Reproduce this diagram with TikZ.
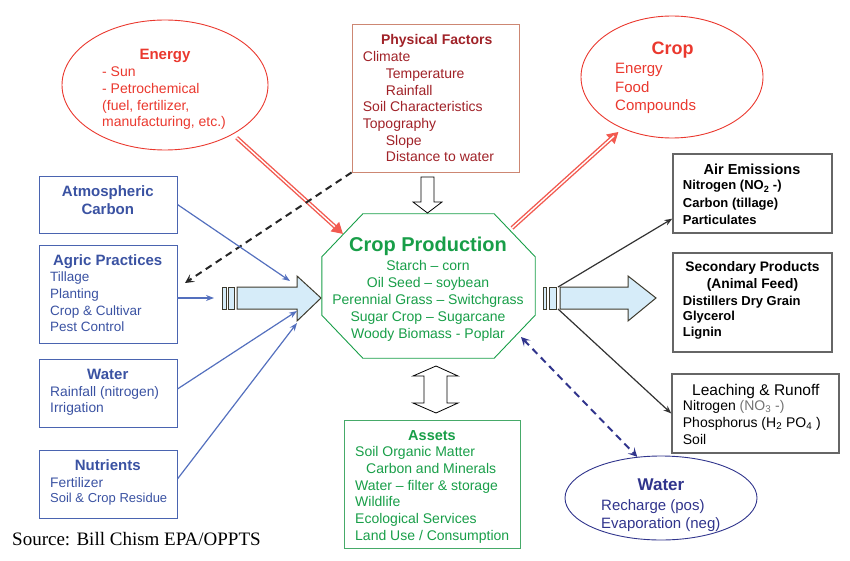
\documentclass[tikz,border=0pt]{standalone}
\usepackage{fontspec}
\setmainfont{Liberation Sans}
\newfontfamily\srcfont{Liberation Serif}
\usetikzlibrary{arrows.meta,shapes.geometric}
\definecolor{enred}{RGB}{234,56,46}
\definecolor{arrred}{RGB}{242,90,80}
\definecolor{physred}{RGB}{160,34,40}
\definecolor{physedge}{RGB}{205,135,115}
\definecolor{prodgreen}{RGB}{24,158,72}
\definecolor{assetedge}{RGB}{70,170,105}
\definecolor{txtblue}{RGB}{58,82,162}
\definecolor{boxblue}{RGB}{74,100,176}
\definecolor{lineblue}{RGB}{84,112,190}
\definecolor{wblue}{RGB}{48,52,140}
\definecolor{arrfill}{RGB}{214,236,249}
\newcommand\fs[2]{\fontsize{#1}{#2}\selectfont}
\begin{document}
\begin{tikzpicture}[x=1pt,y=-1pt,
  box/.style={draw=#1,line width=0.9pt,inner sep=0pt},
  ttl/.style={anchor=base,align=center,font=\bfseries\fs{15}{17.6}},
  txt/.style={anchor=base west,align=left,inner sep=0pt,font=\fs{14}{16.7}},
  bluearr/.style={draw=lineblue,line width=1.2pt,-{Stealth[length=8pt,width=6pt]}},
  blkarr/.style={draw=black!80,line width=1.2pt,-{Stealth[length=8pt,width=6pt]}},
  redarr/.style={draw=arrred,line width=4.2pt,-{Triangle[length=11pt,width=12pt]},
    postaction={draw=white,line width=1.4pt,-,shorten >=11pt}},
  blockarr/.style={draw=black!75!olive,fill=arrfill,line width=1pt},
  hollow/.style={draw=black,fill=white,line width=0.8pt}]
  \useasboundingbox (0,0) rectangle (850,561);

  % ellipses
  \node[draw=enred,line width=0.9pt,ellipse,minimum width=206pt,minimum height=130pt] (energy) at (165,85) {};
  \node[draw=enred,line width=0.9pt,ellipse,minimum width=182pt,minimum height=122pt] (crop) at (672,77) {};
  \node[draw=wblue,line width=0.9pt,ellipse,minimum width=192pt,minimum height=84pt] (water) at (661,498) {};

  % boxes
  \node[box=physedge,minimum width=167pt,minimum height=148pt] (phys) at (435.5,98) {};
  \node[box=boxblue,minimum width=138pt,minimum height=57pt] (atm) at (108,204.5) {};
  \node[box=boxblue,minimum width=138pt,minimum height=98pt] (agric) at (108,294) {};
  \node[box=boxblue,minimum width=138pt,minimum height=68pt] (wbox) at (108,393) {};
  \node[box=boxblue,minimum width=138pt,minimum height=68pt] (nutr) at (108,484) {};
  \node[box=assetedge,minimum width=176pt,minimum height=128pt] (assets) at (432,484) {};
  \node[box=black!60,line width=1.3pt,minimum width=159pt,minimum height=79pt] (air) at (752.5,193.5) {};
  \node[box=black!60,line width=1.3pt,minimum width=159pt,minimum height=99pt] (sec) at (752.5,302.5) {};
  \node[box=black!60,line width=1.3pt,minimum width=167pt,minimum height=79pt] (leach) at (755.5,413.5) {};

  % crop production octagon
  \node[minimum width=213pt,minimum height=144pt,inner sep=0pt] (prod) at (428.5,286) {};
  \draw[prodgreen,line width=0.9pt] ([xshift=41pt]prod.north west) -- ([xshift=-41pt]prod.north east)
    -- ([yshift=-43pt]prod.north east) -- ([yshift=43pt]prod.south east)
    -- ([xshift=-41pt]prod.south east) -- ([xshift=41pt]prod.south west)
    -- ([yshift=43pt]prod.south west) -- ([yshift=-43pt]prod.north west) -- cycle;

  % texts (multi-line nodes sit on the baseline of their last line)
  \node[ttl,enred] (energyT) at (165,60) {Energy};
  \node[txt,enred] (energyB) at (102,127) {- Sun\\- Petrochemical\\(fuel, fertilizer,\\manufacturing, etc.)};
  \node[ttl,physred,font=\bfseries\fs{14}{17}] (physT) at (436.7,45) {Physical Factors};
  \node[txt,physred] (physB) at (362.7,161.9) {Climate\\\hspace*{23pt}Temperature\\\hspace*{23pt}Rainfall\\Soil Characteristics\\Topography\\\hspace*{23pt}Slope\\\hspace*{23pt}Distance to water};
  \node[ttl,enred,font=\bfseries\fs{18}{21}] (cropT) at (672.5,55) {Crop};
  \node[txt,enred,font=\fs{15}{18.3}] (cropB) at (615,110.6) {Energy\\Food\\Compounds};
  \node[ttl,txtblue] (atmT) at (107.8,214.3) {Atmospheric\\Carbon};
  \node[ttl,txtblue] (agricT) at (107.7,265) {Agric Practices};
  \node[txt,txtblue,font=\fs{13.5}{16.7}] (agricB) at (50,331.8) {Tillage\\Planting\\Crop \& Cultivar\\Pest Control};
  \node[ttl,txtblue] (wboxT) at (107.8,379.3) {Water};
  \node[txt,txtblue,font=\fs{13.8}{16}] (wboxB) at (50,412.7) {Rainfall (nitrogen)\\Irrigation};
  \node[ttl,txtblue] (nutrT) at (107.8,470.7) {Nutrients};
  \node[txt,txtblue,font=\fs{13.8}{15.4}] (nutrB) at (50,502.7) {Fertilizer\\{\fs{13}{15.4}Soil \& Crop Residue}};
  \node[ttl,prodgreen,font=\bfseries\fs{20}{24}] (prodT) at (428,251.7) {Crop Production};
  \node[anchor=base,align=center,inner sep=0pt,prodgreen,font=\fs{14}{17}] (prodB) at (428,338) {Starch – corn\\Oil Seed – soybean\\Perennial Grass – Switchgrass\\Sugar Crop – Sugarcane\\Woody Biomass - Poplar};
  \node[ttl,prodgreen,font=\bfseries\fs{14.5}{17}] (assetsT) at (432,440) {Assets};
  \node[txt,prodgreen] (assetsB) at (355,540.2) {Soil Organic Matter\\\hspace*{11pt}Carbon and Minerals\\Water – filter \& storage\\Wildlife\\Ecological Services\\Land Use / Consumption};
  \node[ttl,black,font=\bfseries\fs{14.5}{17}] (airT) at (752,174.3) {Air Emissions};
  \node[txt,black,font=\bfseries\fs{13}{17}] (airB) at (682.7,224) {Nitrogen (NO\textsubscript{2} -)\\Carbon (tillage)\\Particulates};
  \node[ttl,black,font=\bfseries\fs{13.8}{16.6}] (secT) at (752.5,288.3) {Secondary Products\\(Animal Feed)};
  \node[txt,black,font=\bfseries\fs{13}{15.9}] (secB) at (682.7,336.8) {Distillers Dry Grain\\Glycerol\\Lignin};
  \node[ttl,black,font=\fs{15.5}{17}] (leachT) at (755.8,395) {Leaching \& Runoff};
  \node[txt,black] (leachB) at (682.7,444.1) {Nitrogen {\color{black!55}(NO\textsubscript{3} -)}\\Phosphorus (H\textsubscript{2} PO\textsubscript{4} )\\Soil};
  \node[ttl,wblue,font=\bfseries\fs{17}{20}] (waterT) at (661,490.7) {Water};
  \node[txt,wblue,font=\fs{15}{17.6}] (waterB) at (601,528.3) {Recharge (pos)\\Evaporation (neg)};
  \node[anchor=base west,inner sep=0pt,font=\srcfont\fs{19}{22}] (src) at (12,545) {Source: Bill Chism EPA/OPPTS};

  % block arrows
  \draw[blockarr] (222,287) rectangle (226,309) (228,287) rectangle (234,309);
  \draw[blockarr] (237,287) -- (297,287) -- (297,276) -- (321,298) -- (297,321) -- (297,309) -- (237,309) -- cycle;
  \draw[blockarr] (543,287) rectangle (546,309) (549,287) rectangle (556,309);
  \draw[blockarr] (560,287) -- (628,287) -- (628,276) -- (656,298) -- (628,321) -- (628,309) -- (560,309) -- cycle;
  \draw[hollow] (421,177) -- (434,177) -- (434,202) -- (442,202) -- (427.5,213) -- (413,202) -- (421,202) -- cycle;
  \draw[hollow] (436,366) -- (458,376) -- (447,376) -- (447,403) -- (458,403) -- (436,413)
    -- (413,403) -- (424,403) -- (424,376) -- (413,376) -- cycle;

  % arrow ends
  \coordinate (pin) at (343,234);
  \coordinate (pout) at (512,228);
  \coordinate (pse) at (521,337);
  \coordinate (lin1) at (290,281);
  \coordinate (lin2) at (214,298);
  \coordinate (lin3) at (297,311);
  \coordinate (lin4) at (297,323);
  \coordinate (rout1) at (558,287);
  \coordinate (rout2) at (558,309);
  \coordinate (agtip) at (185,283);

  % connectors
  \draw[redarr,shorten <=5pt] (energy.-36) -- (pin);
  \draw[redarr,shorten >=5pt] (pout) -- (crop.-134);
  \draw[draw=black!85,line width=2pt,dash pattern=on 7pt off 5pt,-{Stealth[length=9pt,width=9pt,inset=4pt]}] (phys.south west) -- (agtip);
  \draw[draw=wblue,line width=2pt,dash pattern=on 7pt off 5pt,{Stealth[length=9pt,width=9pt,inset=4pt]}-{Stealth[length=9pt,width=9pt,inset=4pt]}] (pse) -- (water.120);
  \draw[bluearr] (atm.east) -- (lin1);
  \draw[bluearr] ([yshift=-4pt]agric.east) -- (lin2);
  \draw[bluearr] ([yshift=4pt]wbox.east) -- (lin3);
  \draw[bluearr] ([yshift=5pt]nutr.east) -- (lin4);
  \draw[blkarr] (rout1) -- ([yshift=15pt]air.south west);
  \draw[blkarr] (rout2) -- (leach.west);
\end{tikzpicture}
\end{document}
